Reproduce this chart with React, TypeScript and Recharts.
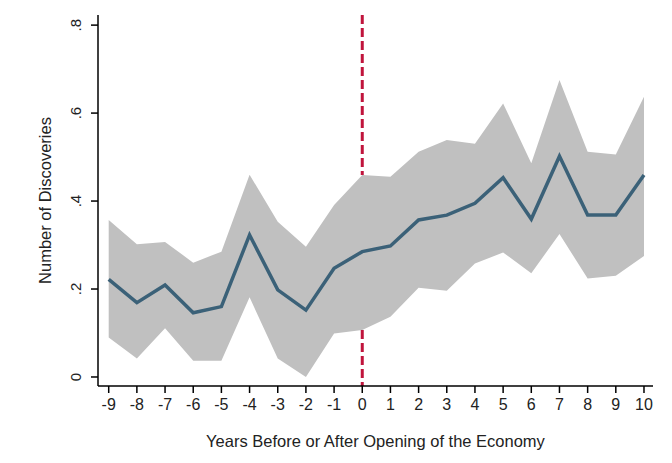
import React from 'react';
import { ComposedChart, Area, Line, XAxis, YAxis, ReferenceLine } from 'recharts';

const years = [-9, -8, -7, -6, -5, -4, -3, -2, -1, 0, 1, 2, 3, 4, 5, 6, 7, 8, 9, 10];
const meanDiscoveries = [0.222, 0.169, 0.209, 0.146, 0.16, 0.323, 0.198, 0.152, 0.247, 0.285, 0.298, 0.357, 0.368, 0.395, 0.453, 0.359, 0.502, 0.368, 0.368, 0.459];
const upperBound = [0.357, 0.302, 0.307, 0.26, 0.285, 0.46, 0.353, 0.296, 0.391, 0.459, 0.455, 0.512, 0.539, 0.53, 0.622, 0.486, 0.675, 0.512, 0.506, 0.637];
const lowerBound = [0.09, 0.042, 0.111, 0.037, 0.037, 0.181, 0.042, 0.0, 0.099, 0.107, 0.137, 0.203, 0.196, 0.258, 0.283, 0.236, 0.325, 0.224, 0.23, 0.275];
const yTicks = [0, 0.2, 0.4, 0.6, 0.8];

const data = years.map((year, i) => ({
  year,
  mean: meanDiscoveries[i],
  band: [lowerBound[i], upperBound[i]],
}));

const openingIdx = years.indexOf(0);
const Y_MIN = -0.0205;
const Y_MAX = 0.823;

const FONT = '"Liberation Sans", Arial, sans-serif';

const fmtY = (v: number) => (v === 0 ? '0' : String(v).replace(/^0/, ''));

const RotatedYTick = ({ x, y, payload }: any) => (
  <text
    x={x - 8}
    y={y}
    transform={`rotate(-90, ${x - 8}, ${y})`}
    textAnchor="middle"
    fontSize={15}
    fontFamily={FONT}
    fill="#222"
  >
    {fmtY(payload.value)}
  </text>
);

export default function App() {
  return (
    <div style={{ position: 'absolute', left: 0, top: 0, width: 672, height: 463, background: '#fff' }}>
      <ComposedChart width={672} height={463} data={data} margin={{ top: 15, right: 19, left: 0, bottom: 0 }}>
        <XAxis
          dataKey="year"
          type="number"
          domain={[-9.38, 10.32]}
          ticks={years}
          interval={0}
          allowDataOverflow
          height={77}
          stroke="#000"
          strokeWidth={1.5}
          tickSize={7}
          tick={{ fontSize: 16, fill: '#222', fontFamily: FONT }}
          tickMargin={6}
          label={{ value: 'Years Before or After Opening of the Economy', position: 'insideBottom', offset: 16, fontSize: 16.5, fill: '#222', fontFamily: FONT }}
        />
        <YAxis
          type="number"
          domain={[Y_MIN, Y_MAX]}
          ticks={yTicks}
          allowDataOverflow
          width={98}
          stroke="#000"
          strokeWidth={1.5}
          tickSize={7}
          tick={<RotatedYTick />}
          label={{ value: 'Number of Discoveries', angle: -90, position: 'insideLeft', offset: 45, fontSize: 16.5, fill: '#222', fontFamily: FONT, style: { textAnchor: 'middle' } }}
        />
        <ReferenceLine
          segment={[{ x: 0, y: Y_MAX }, { x: 0, y: upperBound[openingIdx] }]}
          stroke="#c0143c"
          strokeWidth={3}
          strokeDasharray="9 4"
        />
        <ReferenceLine
          segment={[{ x: 0, y: lowerBound[openingIdx] }, { x: 0, y: Y_MIN }]}
          stroke="#c0143c"
          strokeWidth={3}
          strokeDasharray="9 4"
        />
        <Area
          dataKey="band"
          type="linear"
          stroke="none"
          fill="#c0c0c0"
          fillOpacity={1}
          isAnimationActive={false}
          dot={false}
          activeDot={false}
        />
        <Line
          dataKey="mean"
          type="linear"
          stroke="#3b6178"
          strokeWidth={3.5}
          dot={false}
          activeDot={false}
          isAnimationActive={false}
        />
      </ComposedChart>
    </div>
  );
}
